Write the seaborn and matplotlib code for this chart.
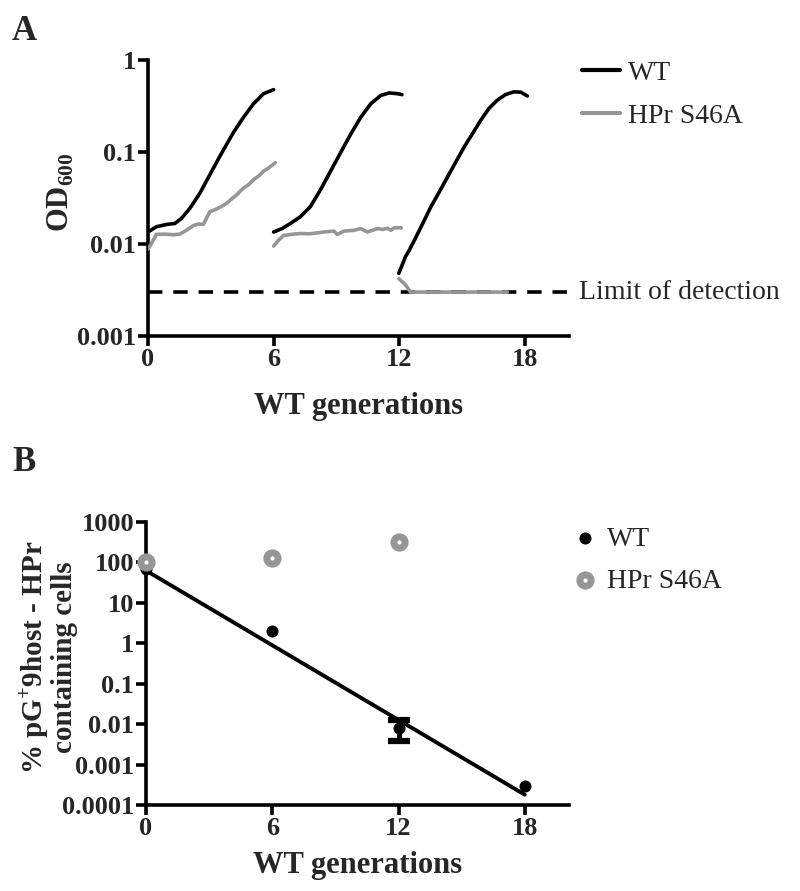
import numpy as np
import pandas as pd
import seaborn as sns
import matplotlib.pyplot as plt
from matplotlib.ticker import FixedLocator, FuncFormatter, NullLocator

sns.set_theme(style='ticks')
plt.rcParams['font.family'] = ['Liberation Serif', 'DejaVu Serif']
plt.rcParams['mathtext.fontset'] = 'custom'
plt.rcParams['mathtext.rm'] = 'Liberation Serif'
plt.rcParams['mathtext.bf'] = 'Liberation Serif:bold'

GRAY = '#969696'

# ---- panel A : growth curves (three successive cultures) ----
wt_gen_1 = [0, 0.4, 0.88, 1.28, 1.6, 2.0, 2.48, 2.96, 3.44, 4.08, 4.56, 5.04, 5.52, 6.0]
wt_od_1 = [0.0135, 0.0154, 0.0163, 0.0167, 0.019, 0.0244, 0.0357, 0.0569, 0.0904, 0.163, 0.238, 0.334, 0.43, 0.476]
wt_gen_2 = [6.0, 6.4, 6.8, 7.28, 7.76, 8.24, 8.72, 9.2, 9.68, 10.16, 10.64, 11.12, 11.52, 11.92, 12.13]
wt_od_2 = [0.0135, 0.0147, 0.0167, 0.0198, 0.0255, 0.0389, 0.0618, 0.0984, 0.156, 0.238, 0.334, 0.412, 0.438, 0.43, 0.42]
wt_gen_3 = [11.98, 12.14, 12.3, 12.45, 12.7, 13.1, 13.49, 13.89, 14.29, 14.69, 15.09, 15.49, 15.89,
            16.28, 16.68, 17.08, 17.48, 17.8, 18.12]
wt_od_3 = [0.0048, 0.0059, 0.0073, 0.0083, 0.0107, 0.0163, 0.0248, 0.036, 0.0527, 0.0769, 0.112, 0.157, 0.22,
           0.296, 0.365, 0.421, 0.45, 0.447, 0.406]

hpr_gen_1 = [0, 0.16, 0.4, 0.8, 1.2, 1.52, 1.84, 2.16, 2.4, 2.64, 2.96, 3.28, 3.5, 3.76, 4.0, 4.24, 4.56,
             4.8, 5.04, 5.3, 5.52, 5.8, 6.08]
hpr_od_1 = [0.0088, 0.0101, 0.0127, 0.0128, 0.0126, 0.0128, 0.0141, 0.0158, 0.0165, 0.0163, 0.0225, 0.024,
            0.0255, 0.0277, 0.031, 0.0343, 0.0405, 0.044, 0.05, 0.055, 0.0618, 0.068, 0.0764]
hpr_gen_2 = [6.0, 6.24, 6.48, 6.96, 7.28, 7.7, 8.08, 8.4, 8.88, 9.04, 9.36, 9.84, 10.16, 10.48, 10.96,
             11.2, 11.44, 11.6, 11.76, 12.1]
hpr_od_2 = [0.0095, 0.011, 0.0124, 0.0128, 0.013, 0.0129, 0.0132, 0.0135, 0.0138, 0.0127, 0.0138, 0.0141,
            0.0147, 0.0135, 0.0147, 0.0144, 0.0148, 0.0141, 0.015, 0.015]
hpr_gen_3 = [11.98, 12.3, 12.54, 17.16]
hpr_od_3 = [0.0042, 0.0036, 0.003, 0.003]

detection_limit = 0.003
strains = ['WT', 'HPr S46A']

# ---- panel B : plasmid loss ----
gen_b = [0, 6, 12, 18]
wt_pct = [68, 2.0, 0.0078, 0.00029]
# error bar only at generation 12
err_gen = [12]
err_mean = [0.0078]
err_low = [0.0038]
err_high = [0.0125]
hpr_gen_b = [0, 6, 12]
hpr_pct = [100, 125, 310]
fit_gen = [0, 18]
fit_pct = [62, 0.00018]

rows = []
for seg, (g, v) in enumerate([(wt_gen_1, wt_od_1), (wt_gen_2, wt_od_2), (wt_gen_3, wt_od_3)]):
    rows += [dict(gen=a, od=b, strain='WT', seg=seg) for a, b in zip(g, v)]
for seg, (g, v) in enumerate([(hpr_gen_1, hpr_od_1), (hpr_gen_2, hpr_od_2), (hpr_gen_3, hpr_od_3)]):
    rows += [dict(gen=a, od=b, strain='HPr S46A', seg=seg + 3) for a, b in zip(g, v)]
df_a = pd.DataFrame(rows)

fig = plt.figure(figsize=(8, 8.91), dpi=100)
ax1 = fig.add_axes([0.185, 0.6229, 0.526, 0.3098])
ax2 = fig.add_axes([0.1825, 0.0965, 0.5287, 0.318])


def style_axis(ax, pad):
    sns.despine(ax=ax)
    for s in ['left', 'bottom']:
        ax.spines[s].set_linewidth(2.6)
        ax.spines[s].set_color('black')
    ax.tick_params(direction='out', length=7, width=2.6, color='black', pad=1.5,
                   labelsize=19)
    for lab in ax.get_xticklabels() + ax.get_yticklabels():
        lab.set_fontweight('bold')
    ax.yaxis.set_minor_locator(NullLocator())
    ax.xaxis.set_minor_locator(NullLocator())
    ax.set_xticks([0, 6, 12, 18])
    ax.set_xticklabels(['0', '6', '12', '18'], fontweight='bold', fontsize=19)
    ax.set_xlim(0, 20.1)
    ax.set_xlabel('WT generations', fontsize=22, fontweight='bold', labelpad=pad)
    ax.grid(False)


# panel A
ax1.axhline(detection_limit, 0, 1.003, color='black', lw=2.6, ls=(0, (4, 3)), clip_on=False, zorder=1)
sns.lineplot(data=df_a, x='gen', y='od', hue='strain', units='seg', estimator=None,
             palette={'WT': 'black', 'HPr S46A': GRAY}, hue_order=strains,
             lw=2.6, ax=ax1, zorder=3)
ax1.set_yscale('log')
ax1.set_ylim(0.001, 1)
ax1.yaxis.set_major_locator(FixedLocator([0.001, 0.01, 0.1, 1]))
ax1.yaxis.set_major_formatter(FuncFormatter(lambda v, p: '{:g}'.format(v)))
style_axis(ax1, 15)
ax1.set_ylabel(r'OD$_{\mathbf{600}}$', fontsize=22, fontweight='bold')
ax1.yaxis.set_label_coords(-0.172, 0.52)
ax1.text(1.025, detection_limit, 'Limit of detection', transform=ax1.get_yaxis_transform(),
         fontsize=20, va='center', ha='left')
sns.move_legend(ax1, loc='upper left', bbox_to_anchor=(0.728, 0.932), bbox_transform=fig.transFigure,
                title=None, frameon=False, fontsize=20, handlelength=1.35, handletextpad=0.3,
                borderpad=0, borderaxespad=0, labelspacing=0.62)
for h in ax1.get_legend().get_lines():
    h.set_linewidth(3)

# panel B
sns.lineplot(x=fit_gen, y=fit_pct, color='black', lw=2.8, ax=ax2, zorder=2)
ax2.errorbar(err_gen, err_mean,
             yerr=[np.array(err_mean) - np.array(err_low), np.array(err_high) - np.array(err_mean)],
             fmt='none', ecolor='black', elinewidth=3.5, capsize=8, capthick=4.5, zorder=3)
sns.scatterplot(x=gen_b, y=wt_pct, color='black', s=75, edgecolor='black', linewidth=0,
                ax=ax2, zorder=4, label='WT', clip_on=False)
sns.scatterplot(x=hpr_gen_b, y=hpr_pct, color='white', edgecolor=GRAY, s=66, linewidth=5,
                ax=ax2, zorder=4, label='HPr S46A', clip_on=False)
ax2.set_yscale('log')
ax2.set_ylim(0.0001, 1000)
ax2.yaxis.set_major_locator(FixedLocator([0.0001, 0.001, 0.01, 0.1, 1, 10, 100, 1000]))
ax2.yaxis.set_major_formatter(FuncFormatter(lambda v, p: '{:g}'.format(v)))
style_axis(ax2, 8)
ax2.set_ylabel('% pG$^{\\mathbf{+}}$9host - HPr\ncontaining cells', fontsize=21, fontweight='bold',
               linespacing=1.0)
ax2.yaxis.set_label_coords(-0.16, 0.52)
ax2.legend(loc='upper left', bbox_to_anchor=(0.714, 0.4095), bbox_transform=fig.transFigure,
           frameon=False, fontsize=20, handlelength=1.0, handletextpad=0.3, borderpad=0,
           borderaxespad=0, labelspacing=0.6)

fig.text(0.015, 0.983, 'A', fontsize=25, fontweight='bold', va='top', ha='left')
fig.text(0.015, 0.499, 'B', fontsize=25, fontweight='bold', va='top', ha='left')

fig.savefig('out.png', dpi=100)
